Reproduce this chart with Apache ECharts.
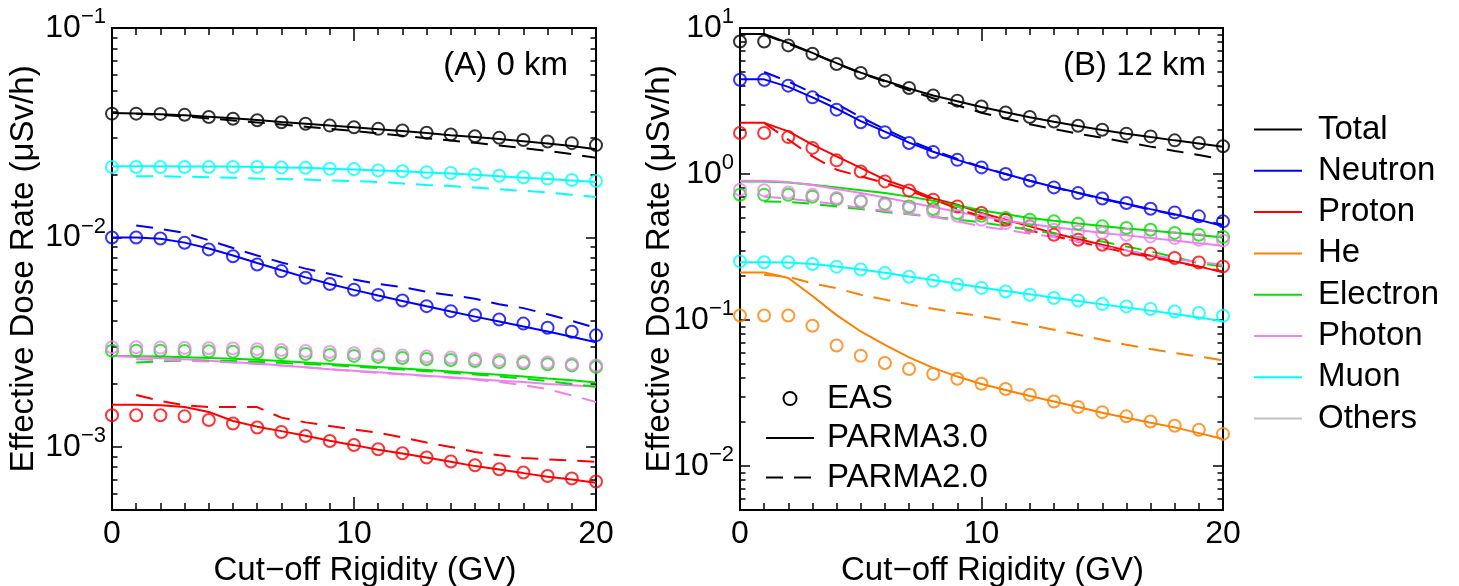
<!DOCTYPE html>
<html>
<head>
<meta charset="utf-8">
<script src="https://cdn.jsdelivr.net/npm/echarts@6/dist/echarts.min.js"></script>
<style>html,body{margin:0;padding:0;background:#fff}#c{width:1459px;height:586px}</style>
</head>
<body>
<div id="c"></div>
<script>
// ---------- categories ----------
const rigidity = [0,1,2,3,4,5,6,7,8,9,10,11,12,13,14,15,16,17,18,19,20];
const particles = ['Total','Neutron','Proton','He','Electron','Photon','Muon','Others'];
const colors = ['#000000','#0000ff','#ff0000','#ff8000','#00e000','#f080f0','#00ffff','#c0c0c0'];
const methodNames = ['EAS','PARMA3.0','PARMA2.0'];
const panelLabels = ['(A) 0 km','(B) 12 km'];
const yTicksA = [1e-3,1e-2,1e-1];
const yMinorA = [6e-4,7e-4,8e-4,9e-4,2e-3,3e-3,4e-3,5e-3,6e-3,7e-3,8e-3,9e-3,2e-2,3e-2,4e-2,5e-2,6e-2,7e-2,8e-2,9e-2];
const yTicksB = [1e-2,1e-1,1,10];
const yMinorB = [6e-3,7e-3,8e-3,9e-3,2e-2,3e-2,4e-2,5e-2,6e-2,7e-2,8e-2,9e-2,0.2,0.3,0.4,0.5,0.6,0.7,0.8,0.9,2,3,4,5,6,7,8,9];

// ---------- (A) 0 km ----------
const A_total_eas = [0.0390,0.0390,0.0389,0.0385,0.0376,0.0369,0.0363,0.0355,0.0349,0.0342,0.0336,0.0330,0.0324,0.0316,0.0310,0.0304,0.0299,0.0292,0.0287,0.0282,0.0276];
const A_total_p3  = [0.0393,0.0391,0.0388,0.0383,0.0377,0.0371,0.0364,0.0356,0.0349,0.0342,0.0336,0.0329,0.0322,0.0315,0.0308,0.0302,0.0295,0.0288,0.0281,0.0273,0.0264];
const A_total_p2  = [null,0.0390,0.0385,0.0378,0.0370,0.0362,0.0354,0.0346,0.0338,0.0330,0.0322,0.0314,0.0306,0.0298,0.0290,0.0283,0.0275,0.0267,0.0259,0.0250,0.0240];
const A_neutron_eas = [0.0100,0.0100,0.00989,0.00943,0.00877,0.00814,0.00743,0.00691,0.00642,0.00600,0.00563,0.00532,0.00500,0.00470,0.00445,0.00425,0.00406,0.00388,0.00371,0.00355,0.00341];
const A_neutron_p3  = [0.0100,0.0100,0.00985,0.00945,0.00885,0.00820,0.00755,0.00697,0.00645,0.00600,0.00562,0.00528,0.00497,0.00469,0.00443,0.00419,0.00397,0.00376,0.00356,0.00336,0.00316];
const A_neutron_p2  = [null,0.0114,0.0110,0.0105,0.0097,0.0089,0.0082,0.0076,0.0071,0.0067,0.0063,0.0060,0.0058,0.0055,0.0053,0.0051,0.0048,0.0046,0.0043,0.0040,0.0037];
const A_proton_eas = [0.001416,0.001416,0.001416,0.00140,0.001345,0.001293,0.001238,0.001179,0.001128,0.001068,0.001022,0.000975,0.000933,0.00089,0.000852,0.000818,0.000783,0.000755,0.000727,0.000707,0.000684];
const A_proton_p3  = [0.00159,0.00159,0.00158,0.00155,0.00147,0.00133,0.00125,0.00119,0.00113,0.00107,0.00102,0.00097,0.00093,0.00089,0.00085,0.00081,0.00078,0.00075,0.00072,0.00070,0.000675];
const A_proton_p2  = [null,0.00177,0.00166,0.00158,0.00155,0.00155,0.00155,0.00138,0.00131,0.00126,0.00121,0.00117,0.00111,0.00105,0.00100,0.000947,0.000913,0.000886,0.000873,0.000861,0.000848];
const A_electron_eas = [0.00288,0.00288,0.00288,0.00287,0.00286,0.00285,0.00283,0.00281,0.00278,0.00275,0.00272,0.00269,0.00266,0.00263,0.00260,0.00257,0.00254,0.00251,0.00248,0.00245,0.00241];
const A_electron_p3  = [0.00272,0.00271,0.00270,0.00268,0.00266,0.00264,0.00261,0.00257,0.00253,0.00249,0.00245,0.00241,0.00237,0.00233,0.00229,0.00225,0.00221,0.00217,0.00212,0.00208,0.00203];
const A_electron_p2  = [null,0.00253,0.00256,0.00258,0.00258,0.00257,0.00255,0.00252,0.00249,0.00246,0.00242,0.00238,0.00234,0.00230,0.00226,0.00222,0.00217,0.00212,0.00206,0.00200,0.00194];
const A_photon_eas = [0.00299,0.00299,0.00298,0.00297,0.00296,0.00295,0.00293,0.00290,0.00287,0.00284,0.00280,0.00276,0.00273,0.00270,0.00267,0.00263,0.00260,0.00256,0.00253,0.00249,0.00245];
const A_photon_p3  = [0.00272,0.00269,0.00265,0.00262,0.00258,0.00254,0.00250,0.00245,0.00240,0.00235,0.00231,0.00227,0.00223,0.00219,0.00215,0.00211,0.00207,0.00204,0.00200,0.00197,0.00194];
const A_photon_p2  = [null,0.00262,0.00260,0.00258,0.00256,0.00253,0.00249,0.00245,0.00240,0.00235,0.00230,0.00226,0.00222,0.00218,0.00214,0.00210,0.00204,0.00197,0.00189,0.00176,0.00164];
const A_muon_eas = [0.0217,0.0217,0.0217,0.0217,0.0217,0.0217,0.0217,0.0216,0.0215,0.0213,0.0212,0.0209,0.0207,0.0205,0.0203,0.0200,0.0197,0.0194,0.0191,0.0188,0.0186];
const A_muon_p3  = [0.0219,0.0219,0.0219,0.0218,0.0218,0.0218,0.0217,0.0216,0.0215,0.0213,0.0211,0.0209,0.0207,0.0204,0.0202,0.0199,0.0196,0.0193,0.0190,0.0187,0.0184];
const A_muon_p2  = [null,0.0196,0.0196,0.0195,0.0194,0.0193,0.0191,0.0190,0.0189,0.0187,0.0186,0.0184,0.0181,0.0178,0.0176,0.0173,0.0170,0.0167,0.0164,0.0160,0.0156];

// ---------- (B) 12 km ----------
const B_total_eas = [8.09,8.09,7.60,6.67,5.67,4.92,4.36,3.88,3.45,3.18,2.90,2.64,2.46,2.29,2.14,2.01,1.89,1.81,1.70,1.63,1.55];
const B_total_p3  = [9.10,9.10,7.90,6.75,5.75,4.95,4.35,3.85,3.45,3.15,2.88,2.65,2.45,2.28,2.13,2.00,1.89,1.79,1.70,1.62,1.54];
const B_total_p2  = [null,9.0,7.8,6.7,5.7,4.9,4.3,3.75,3.3,2.95,2.63,2.40,2.19,2.03,1.89,1.77,1.65,1.54,1.44,1.35,1.26];
const B_neutron_eas = [4.42,4.42,4.03,3.35,2.76,2.26,1.93,1.63,1.415,1.25,1.11,1.00,0.90,0.81,0.74,0.68,0.633,0.578,0.546,0.513,0.474];
const B_neutron_p3  = [4.45,4.45,3.95,3.35,2.80,2.30,1.95,1.64,1.42,1.25,1.11,1.00,0.90,0.815,0.745,0.68,0.625,0.575,0.53,0.485,0.44];
const B_neutron_p2  = [null,5.0,4.3,3.6,3.03,2.45,2.03,1.70,1.46,1.27,1.12,1.00,0.90,0.81,0.74,0.675,0.62,0.57,0.525,0.485,0.45];
const B_proton_eas = [1.91,1.91,1.79,1.51,1.24,1.04,0.89,0.772,0.667,0.60,0.541,0.486,0.438,0.384,0.355,0.328,0.303,0.284,0.266,0.248,0.233];
const B_proton_p3  = [2.24,2.24,1.96,1.59,1.32,1.10,0.914,0.80,0.68,0.616,0.541,0.486,0.438,0.393,0.359,0.328,0.30,0.276,0.252,0.233,0.212];
const B_proton_p2  = [null,2.24,1.72,1.32,1.07,0.963,0.87,0.77,0.67,0.58,0.51,0.46,0.41,0.375,0.345,0.315,0.29,0.27,0.25,0.232,0.215];
const B_he_eas = [0.1075,0.1075,0.1075,0.0914,0.067,0.0569,0.0508,0.0462,0.0427,0.0396,0.0366,0.0337,0.0308,0.0277,0.0254,0.0234,0.0219,0.0202,0.0189,0.0177,0.0166];
const B_he_p3  = [0.212,0.212,0.194,0.146,0.108,0.0835,0.0675,0.0555,0.0470,0.0410,0.0365,0.0332,0.0302,0.0277,0.0254,0.0232,0.0214,0.0198,0.0184,0.0168,0.0153];
const B_he_p2  = [null,0.204,0.198,0.178,0.165,0.149,0.138,0.128,0.1195,0.112,0.106,0.099,0.0924,0.0858,0.0793,0.0733,0.0677,0.0633,0.0594,0.0563,0.0529];
const B_electron_eas = [0.721,0.72,0.72,0.70,0.674,0.649,0.626,0.60,0.576,0.541,0.518,0.50,0.486,0.474,0.457,0.438,0.427,0.415,0.395,0.384,0.370];
const B_electron_p3  = [0.89,0.89,0.876,0.845,0.81,0.775,0.74,0.70,0.655,0.61,0.565,0.53,0.50,0.478,0.458,0.44,0.424,0.41,0.396,0.382,0.368];
const B_electron_p2  = [null,0.649,0.645,0.625,0.60,0.575,0.55,0.53,0.51,0.488,0.466,0.44,0.415,0.392,0.37,0.345,0.319,0.295,0.27,0.245,0.233];
const B_photon_eas = [0.78,0.775,0.748,0.72,0.685,0.656,0.616,0.585,0.554,0.518,0.486,0.462,0.438,0.415,0.404,0.395,0.384,0.374,0.364,0.355,0.351];
const B_photon_p3  = [0.90,0.90,0.88,0.84,0.79,0.741,0.69,0.64,0.595,0.55,0.513,0.48,0.455,0.432,0.413,0.395,0.38,0.365,0.35,0.336,0.323];
const B_photon_p2  = [null,0.70,0.68,0.649,0.62,0.585,0.56,0.535,0.51,0.475,0.438,0.415,0.39,0.37,0.345,0.319,0.30,0.28,0.262,0.25,0.239];
const B_muon_eas = [0.252,0.249,0.249,0.242,0.232,0.222,0.21,0.198,0.186,0.175,0.166,0.157,0.149,0.1415,0.136,0.129,0.124,0.119,0.1145,0.1117,0.107];
const B_muon_p3  = [0.249,0.249,0.248,0.242,0.233,0.222,0.211,0.199,0.188,0.177,0.167,0.158,0.150,0.142,0.135,0.128,0.122,0.116,0.110,0.104,0.098];

// ---------- build ----------
const FONT = "'Liberation Sans', Arial, Helvetica, sans-serif";
const colorOf = n => colors[particles.indexOf(n)];
function pairs(vals){ const out=[]; vals.forEach((v,i)=>{ if(v!=null) out.push([rigidity[i], v]); }); return out; }

const panelA = [
  ['Total',A_total_eas,A_total_p3,A_total_p2],
  ['Muon',A_muon_eas,A_muon_p3,A_muon_p2],
  ['Neutron',A_neutron_eas,A_neutron_p3,A_neutron_p2],
  ['Electron',A_electron_eas,A_electron_p3,A_electron_p2],
  ['Photon',A_photon_eas,A_photon_p3,A_photon_p2],
  ['Proton',A_proton_eas,A_proton_p3,A_proton_p2]
];
const panelB = [
  ['Total',B_total_eas,B_total_p3,B_total_p2],
  ['Neutron',B_neutron_eas,B_neutron_p3,B_neutron_p2],
  ['Proton',B_proton_eas,B_proton_p3,B_proton_p2],
  ['He',B_he_eas,B_he_p3,B_he_p2],
  ['Electron',B_electron_eas,B_electron_p3,B_electron_p2],
  ['Photon',B_photon_eas,B_photon_p3,B_photon_p2],
  ['Muon',B_muon_eas,B_muon_p3,null]
];
const DASH = [17,11];
const solids = [], dashes = [], marks = [];
[[panelA,0,0],[panelB,2,4]].forEach(([panel,xi,yi])=>{
  panel.forEach(([name,eas,p3,p2])=>{
    const c = colorOf(name);
    solids.push({type:'line',name,xAxisIndex:xi,yAxisIndex:yi,data:pairs(p3),symbol:'none',
      lineStyle:{color:c,width:2},itemStyle:{color:c},silent:true,z:3});
    if(p2) dashes.push({type:'line',name,xAxisIndex:xi,yAxisIndex:yi,data:pairs(p2),symbol:'none',
      lineStyle:{color:c,width:2,type:DASH},itemStyle:{color:c},silent:true,z:3});
    marks.push({type:'scatter',name,xAxisIndex:xi,yAxisIndex:yi,data:pairs(eas),symbol:'circle',symbolSize:12,
      itemStyle:{color:'rgba(255,255,255,0)',borderColor:c,borderWidth:2},silent:true,z:4});
  });
});
const legendOnly = [
  {type:'line',name:'Others',xAxisIndex:0,yAxisIndex:0,data:[],symbol:'none',lineStyle:{color:colorOf('Others'),width:2},itemStyle:{color:colorOf('Others')}},
  {type:'scatter',name:methodNames[0],xAxisIndex:2,yAxisIndex:4,data:[],symbol:'circle',symbolSize:12,itemStyle:{color:'rgba(255,255,255,0)',borderColor:'#000',borderWidth:2}},
  {type:'line',name:methodNames[1],xAxisIndex:2,yAxisIndex:4,data:[],symbol:'none',lineStyle:{color:'#000',width:2},itemStyle:{color:'#000'}},
  {type:'line',name:methodNames[2],xAxisIndex:2,yAxisIndex:4,data:[],symbol:'none',lineStyle:{color:'#000',width:2,type:DASH},itemStyle:{color:'#000'}}
];

const AX = {color:'#000',width:2};
function xAx(grid, top){
  return {type:'value',gridIndex:grid,position:top?'top':'bottom',min:0,max:20,interval:10,
    axisLine:{show:true,onZero:false,lineStyle:AX},
    axisTick:{show:true,inside:true,length:13,lineStyle:{color:'#000',width:1.5}},
    minorTick:{show:true,splitNumber:10,length:7,lineStyle:{color:'#000',width:1.5}},
    splitLine:{show:false},minorSplitLine:{show:false},
    axisLabel:{show:!top,fontSize:32,fontFamily:FONT,color:'#000',margin:8},
    name: top?'':'Cut\u2212off Rigidity (GV)',nameLocation:'middle',nameGap:40,
    nameTextStyle:{fontSize:33,fontFamily:FONT,color:'#000',padding:[0,0,0,22]}};
}
function supFmt(v){ const e=Math.round(Math.log10(v)); return '{b|10}{s|'+(e<0?'\u2212':'')+Math.abs(e)+'}'; }
function yAx(grid, pos, min, max, ticks, len, showLine, showLabel, nameGap){
  return {type:'log',logBase:10,gridIndex:grid,position:pos,min,max,
    axisLine:{show:showLine,lineStyle:AX},
    axisTick:{show:true,inside:true,length:len,customValues:ticks,lineStyle:{color:'#000',width:1.5}},
    splitLine:{show:false},
    axisLabel:{show:showLabel,customValues:ticks,formatter:supFmt,margin:6,
      rich:{b:{fontSize:32,fontFamily:FONT,color:'#000',lineHeight:44,verticalAlign:'middle'},
            s:{fontSize:22,fontFamily:FONT,color:'#000',lineHeight:22,verticalAlign:'top'}}},
    name: showLabel?'Effective Dose Rate (\u03bcSv/h)':'',nameLocation:'middle',nameGap:nameGap||0,
    nameMoveOverlap:false,
    nameTextStyle:{fontSize:33,fontFamily:FONT,color:'#000'}};
}

const option = {
  animation:false,
  backgroundColor:'#fff',
  textStyle:{fontFamily:FONT},
  grid:[
    {left:112,top:28,width:484,height:482,outerBoundsMode:'none',containLabel:false},
    {left:740,top:28,width:483,height:482,outerBoundsMode:'none',containLabel:false}
  ],
  xAxis:[xAx(0,false),xAx(0,true),xAx(1,false),xAx(1,true)],
  yAxis:[
    yAx(0,'left',5e-4,0.1,yTicksA,10,true,true,72),
    yAx(0,'left',5e-4,0.1,yMinorA,5.5,false,false),
    yAx(0,'right',5e-4,0.1,yTicksA,10,true,false),
    yAx(0,'right',5e-4,0.1,yMinorA,5.5,false,false),
    yAx(1,'left',5e-3,10,yTicksB,10,true,true,64),
    yAx(1,'left',5e-3,10,yMinorB,5.5,false,false),
    yAx(1,'right',5e-3,10,yTicksB,10,true,false),
    yAx(1,'right',5e-3,10,yMinorB,5.5,false,false)
  ],
  legend:[
    {data:particles,orient:'vertical',left:1253,top:113,padding:0,itemWidth:48,itemHeight:12,itemGap:8.3,selectedMode:false,
      itemStyle:{opacity:0},
      textStyle:{fontSize:33,lineHeight:32,fontFamily:FONT,color:'#000',padding:[0,0,0,11]}},
    {data:[{name:methodNames[0],icon:'circle',itemStyle:{opacity:1,color:'rgba(255,255,255,0)',borderColor:'#000',borderWidth:2}},methodNames[1],methodNames[2]],
      orient:'vertical',left:765,top:382,padding:0,itemWidth:48,itemHeight:13,itemGap:6.5,selectedMode:false,
      itemStyle:{opacity:0},
      textStyle:{fontSize:33,lineHeight:32,fontFamily:FONT,color:'#000',padding:[0,0,0,8]}}
  ],
  graphic:[
    {type:'text',x:568,y:66,style:{text:panelLabels[0],fontSize:33,fontFamily:FONT,fill:'#000',align:'right',verticalAlign:'middle'}},
    {type:'text',x:1206,y:66,style:{text:panelLabels[1],fontSize:33,fontFamily:FONT,fill:'#000',align:'right',verticalAlign:'middle'}}
  ],
  series:[...solids,...legendOnly,...dashes,...marks]
};
const chart = echarts.init(document.getElementById('c'),null,{renderer:'canvas'});
chart.setOption(option);
</script>
</body>
</html>
